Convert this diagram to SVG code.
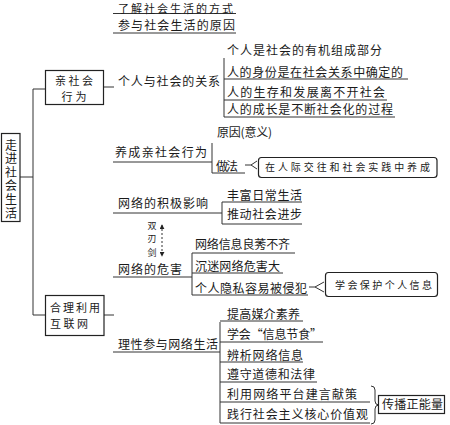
<svg xmlns="http://www.w3.org/2000/svg" width="450" height="425" viewBox="0 0 450 425">
<style>
text{font-family:"Noto Sans CJK SC","Noto Sans",sans-serif;fill:#1a1a1a;font-size:12px}
.sm{font-size:10px}
.xs{font-size:9px}
.bt{font-size:11px}
.vt{writing-mode:tb}
.ln{stroke:#333;stroke-width:1;fill:none}
.bx{stroke:#222;stroke-width:1.2;fill:#fff}
</style>
<defs>
<marker id="ah" viewBox="0 0 6 6" refX="5" refY="3" markerWidth="5" markerHeight="5" orient="auto-start-reverse"><path d="M0,0 L6,3 L0,6 z" fill="#222"/></marker>
</defs>
<g id="connectors" class="ln">
<path d="M20,177 H33 M33,89 V315 M33,89 H45 M33,315 H45"/>
<path d="M103,87 H114 M104,315 H114"/>
<path d="M113,13.5 H236 M113,33 H236"/>
<path d="M224,58 V117 M224,79 H408 M224,100 H387 M224,117 H395"/>
<path d="M113,162 H212 M212,143 V173 M212,173 H245"/>
<path d="M245,165 H251 M257,161 L251,165 L257,169"/>
<path d="M113,213 H222 M222,202 V224 M222,202 H302 M222,224 H302"/>
<path d="M162,225 V256" stroke-dasharray="2,2" marker-start="url(#ah)" marker-end="url(#ah)"/>
<path d="M113,277 H192 M192,253 V295 M192,253 H295 M192,273 H283 M192,295 H308"/>
<path d="M309,287 H315 M324,282 L315,287 L324,292"/>
<path d="M113,352 H220 M220,322 V423 M220,321 H303 M220,342 H323 M220,362 H303 M220,382 H317 M220,402 H370 M220,423 H370"/>
<path d="M371,386 q4,0 4,4 v11 q0,4 4,4 q-4,0 -4,4 v11 q0,4 -4,4"/>
</g>
<g id="root">
<rect class="bx" x="1.5" y="133.5" width="18.5" height="88"/>
<text class="vt" x="11" y="139" textLength="80" lengthAdjust="spacing">走进社会生活</text>
</g>
<g id="n-prosocial">
<rect class="bx" x="45.5" y="70.5" width="58" height="34"/>
<text class="bt" x="55" y="84.5" textLength="38" lengthAdjust="spacing">亲社会</text>
<text class="bt" x="61.5" y="100.5" textLength="25" lengthAdjust="spacing">行为</text>
</g>
<g id="n-internet">
<rect class="bx" x="45.5" y="295.5" width="58.5" height="40"/>
<text class="bt" x="50" y="312" textLength="50" lengthAdjust="spacing">合理利用</text>
<text class="bt" x="50" y="328" textLength="38" lengthAdjust="spacing">互联网</text>
</g>
<g id="n-top">
<text class="bt" x="118" y="12.5" textLength="115" lengthAdjust="spacing">了解社会生活的方式</text>
<text x="118" y="30" textLength="117" lengthAdjust="spacing">参与社会生活的原因</text>
</g>
<g id="n-relation">
<text x="118" y="86" textLength="102" lengthAdjust="spacing">个人与社会的关系</text>
<text x="227" y="55" textLength="155" lengthAdjust="spacing">个人是社会的有机组成部分</text>
<text x="227" y="77" textLength="176" lengthAdjust="spacing">人的身份是在社会关系中确定的</text>
<text x="227" y="97" textLength="158" lengthAdjust="spacing">人的生存和发展离不开社会</text>
<text x="227" y="114" textLength="166" lengthAdjust="spacing">人的成长是不断社会化的过程</text>
</g>
<g id="n-cultivate">
<text x="115" y="157" textLength="92" lengthAdjust="spacing">养成亲社会行为</text>
<text x="217" y="137" textLength="55" lengthAdjust="spacing">原因(意义)</text>
<text x="216" y="171" textLength="22" lengthAdjust="spacing">做法</text>
</g>
<g id="n-practice">
<rect class="bx" x="258.5" y="157.5" width="178.5" height="20" rx="3"/>
<text class="sm" x="265" y="171" textLength="165" lengthAdjust="spacing">在人际交往和社会实践中养成</text>
</g>
<g id="n-positive">
<text x="118" y="208" textLength="90" lengthAdjust="spacing">网络的积极影响</text>
<text x="227" y="200" textLength="75" lengthAdjust="spacing">丰富日常生活</text>
<text x="227" y="219" textLength="75" lengthAdjust="spacing">推动社会进步</text>
</g>
<g id="n-sword">
<text class="xs vt" x="152" y="221" textLength="36" lengthAdjust="spacing">双刃剑</text>
</g>
<g id="n-harm">
<text x="118" y="274" textLength="64" lengthAdjust="spacing">网络的危害</text>
<text x="195" y="249" textLength="95" lengthAdjust="spacing">网络信息良莠不齐</text>
<text x="195" y="271" textLength="85" lengthAdjust="spacing">沉迷网络危害大</text>
<text x="195" y="293" textLength="112" lengthAdjust="spacing">个人隐私容易被侵犯</text>
</g>
<g id="n-protect">
<rect class="bx" x="325.5" y="272.5" width="112" height="24" rx="3"/>
<text class="sm" x="335" y="289" textLength="97" lengthAdjust="spacing">学会保护个人信息</text>
</g>
<g id="n-rational">
<text x="118" y="349" textLength="100" lengthAdjust="spacing">理性参与网络生活</text>
<text x="227" y="319" textLength="73" lengthAdjust="spacing">提高媒介素养</text>
<text x="227" y="339" textLength="95" lengthAdjust="spacing">学会“信息节食”</text>
<text x="227" y="360" textLength="76" lengthAdjust="spacing">辨析网络信息</text>
<text x="227" y="379" textLength="88" lengthAdjust="spacing">遵守道德和法律</text>
<text x="227" y="399" textLength="130" lengthAdjust="spacing">利用网络平台建言献策</text>
<text x="227" y="419" textLength="141" lengthAdjust="spacing">践行社会主义核心价值观</text>
</g>
<g id="n-energy">
<rect class="bx" x="378.5" y="395.5" width="66" height="18"/>
<text x="382" y="409" textLength="61" lengthAdjust="spacing">传播正能量</text>
</g>
</svg>
